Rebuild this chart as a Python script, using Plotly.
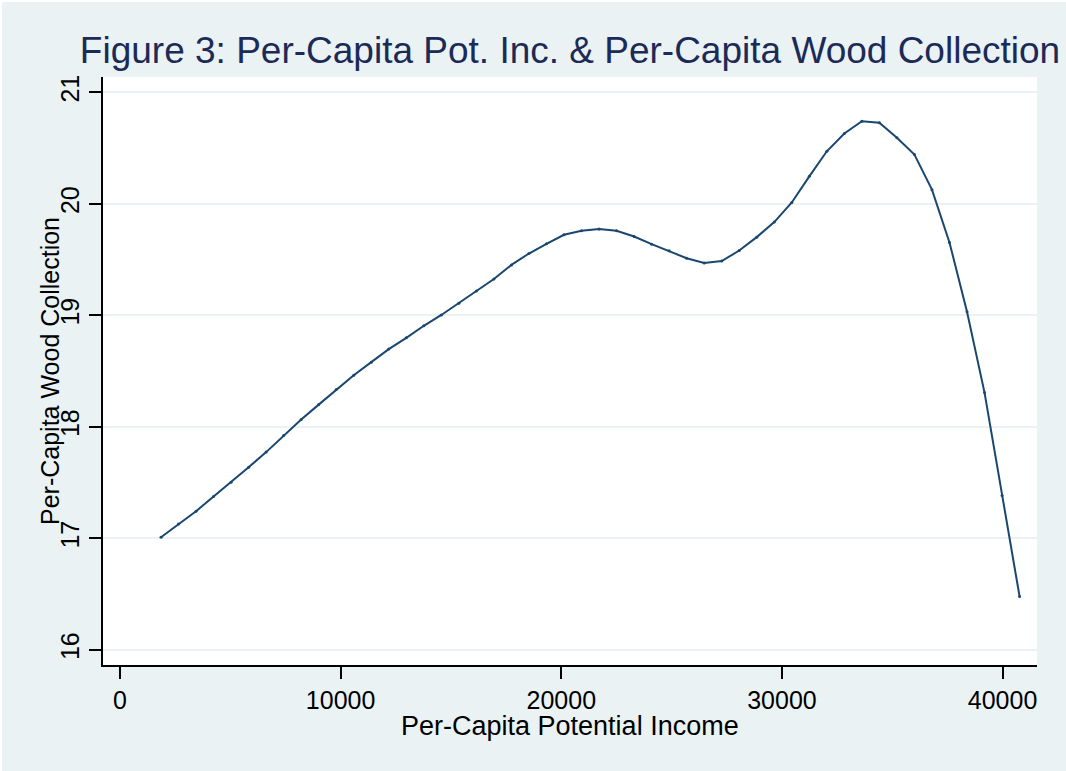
import plotly.graph_objects as go

# Data
income = [1859, 2653, 3447, 4241, 5035, 5830, 6624, 7418, 8212, 9006,
          9800, 10594, 11388, 12182, 12976, 13771, 14565, 15359, 16153, 16947,
          17741, 18535, 19329, 20123, 20917, 21712, 22506, 23300, 24094, 24888,
          25682, 26476, 27270, 28064, 28858, 29653, 30447, 31241, 32035, 32829,
          33623, 34417, 35211, 36005, 36799, 37594, 38388, 39182, 39976, 40771]
wood = [17.010, 17.130, 17.244, 17.376, 17.504, 17.639, 17.774, 17.924, 18.066, 18.200,
        18.335, 18.464, 18.581, 18.698, 18.799, 18.907, 19.004, 19.109, 19.219, 19.327,
        19.453, 19.555, 19.642, 19.723, 19.759, 19.774, 19.759, 19.708, 19.639, 19.579,
        19.513, 19.471, 19.487, 19.582, 19.702, 19.837, 20.013, 20.247, 20.472, 20.631,
        20.742, 20.728, 20.593, 20.442, 20.128, 19.654, 19.033, 18.308, 17.385, 16.479]

x_ticks = [0, 10000, 20000, 30000, 40000]
y_ticks = [16, 17, 18, 19, 20, 21]

title_text = "Figure 3: Per-Capita Pot. Inc. & Per-Capita Wood Collection"
x_title = "Per-Capita Potential Income"
y_title = "Per-Capita Wood Collection"

BG = "#EAF2F3"
LINE = "#1a476f"
FONT = "Liberation Sans, Arial, sans-serif"

W, H = 1066, 771
L, R, T, B = 103, 29, 77, 106
pw = W - L - R
ph = H - T - B

fig = go.Figure()
fig.add_trace(go.Scatter(
    x=income, y=wood, mode="lines+markers",
    line=dict(color=LINE, width=2),
    marker=dict(color=LINE, size=3, symbol="circle"),
    hoverinfo="x+y", showlegend=False,
))

fig.update_layout(
    width=W, height=H,
    margin=dict(l=L, r=R, t=T, b=B, autoexpand=False),
    paper_bgcolor=BG, plot_bgcolor="white",
    font=dict(family=FONT, color="black", size=25),
    title=dict(text=title_text, x=0.5, xref="paper", xanchor="center",
               y=1 - 63 / H, yref="container", yanchor="bottom",
               font=dict(family=FONT, size=37, color="#1c2a57")),
    xaxis=dict(range=[-770, 41560], tickvals=x_ticks, ticktext=[str(v) for v in x_ticks],
               showgrid=False, zeroline=False, showline=True, linecolor="black", linewidth=1.5,
               ticks="outside", ticklen=12, tickwidth=1.5, tickcolor="black",
               tickfont=dict(size=25, family=FONT, color="black")),
    yaxis=dict(range=[15.865, 21.138], tickvals=y_ticks, ticktext=[str(v) for v in y_ticks],
               showgrid=True, gridcolor=BG, gridwidth=1.5, zeroline=False,
               showline=True, linecolor="black", linewidth=1.5,
               ticks="outside", ticklen=12, tickwidth=1.5, tickcolor="black",
               tickangle=-90, tickfont=dict(size=25, family=FONT, color="black")),
    annotations=[
        dict(text=x_title, xref="paper", yref="paper", x=0.5, y=0,
             xanchor="center", yanchor="middle", yshift=-61, showarrow=False,
             font=dict(size=27, family=FONT, color="black")),
        dict(text=y_title, xref="paper", yref="paper", x=0, y=0.5,
             xanchor="center", yanchor="middle", xshift=-53, textangle=-90,
             showarrow=False, font=dict(size=25, family=FONT, color="black")),
    ],
    shapes=[
        dict(type="rect", xref="paper", yref="paper", layer="above",
             x0=-L / pw, x1=(2 - L) / pw, y0=-B / ph, y1=(ph + T) / ph,
             fillcolor="white", line=dict(width=0)),
        dict(type="rect", xref="paper", yref="paper", layer="above",
             x0=-L / pw, x1=(pw + R) / pw, y0=(ph + T - 2) / ph, y1=(ph + T) / ph,
             fillcolor="white", line=dict(width=0)),
    ],
)

fig.write_html("out.html", config={"displayModeBar": False},
               post_script="document.body.style.margin='0';document.body.style.padding='0';")
